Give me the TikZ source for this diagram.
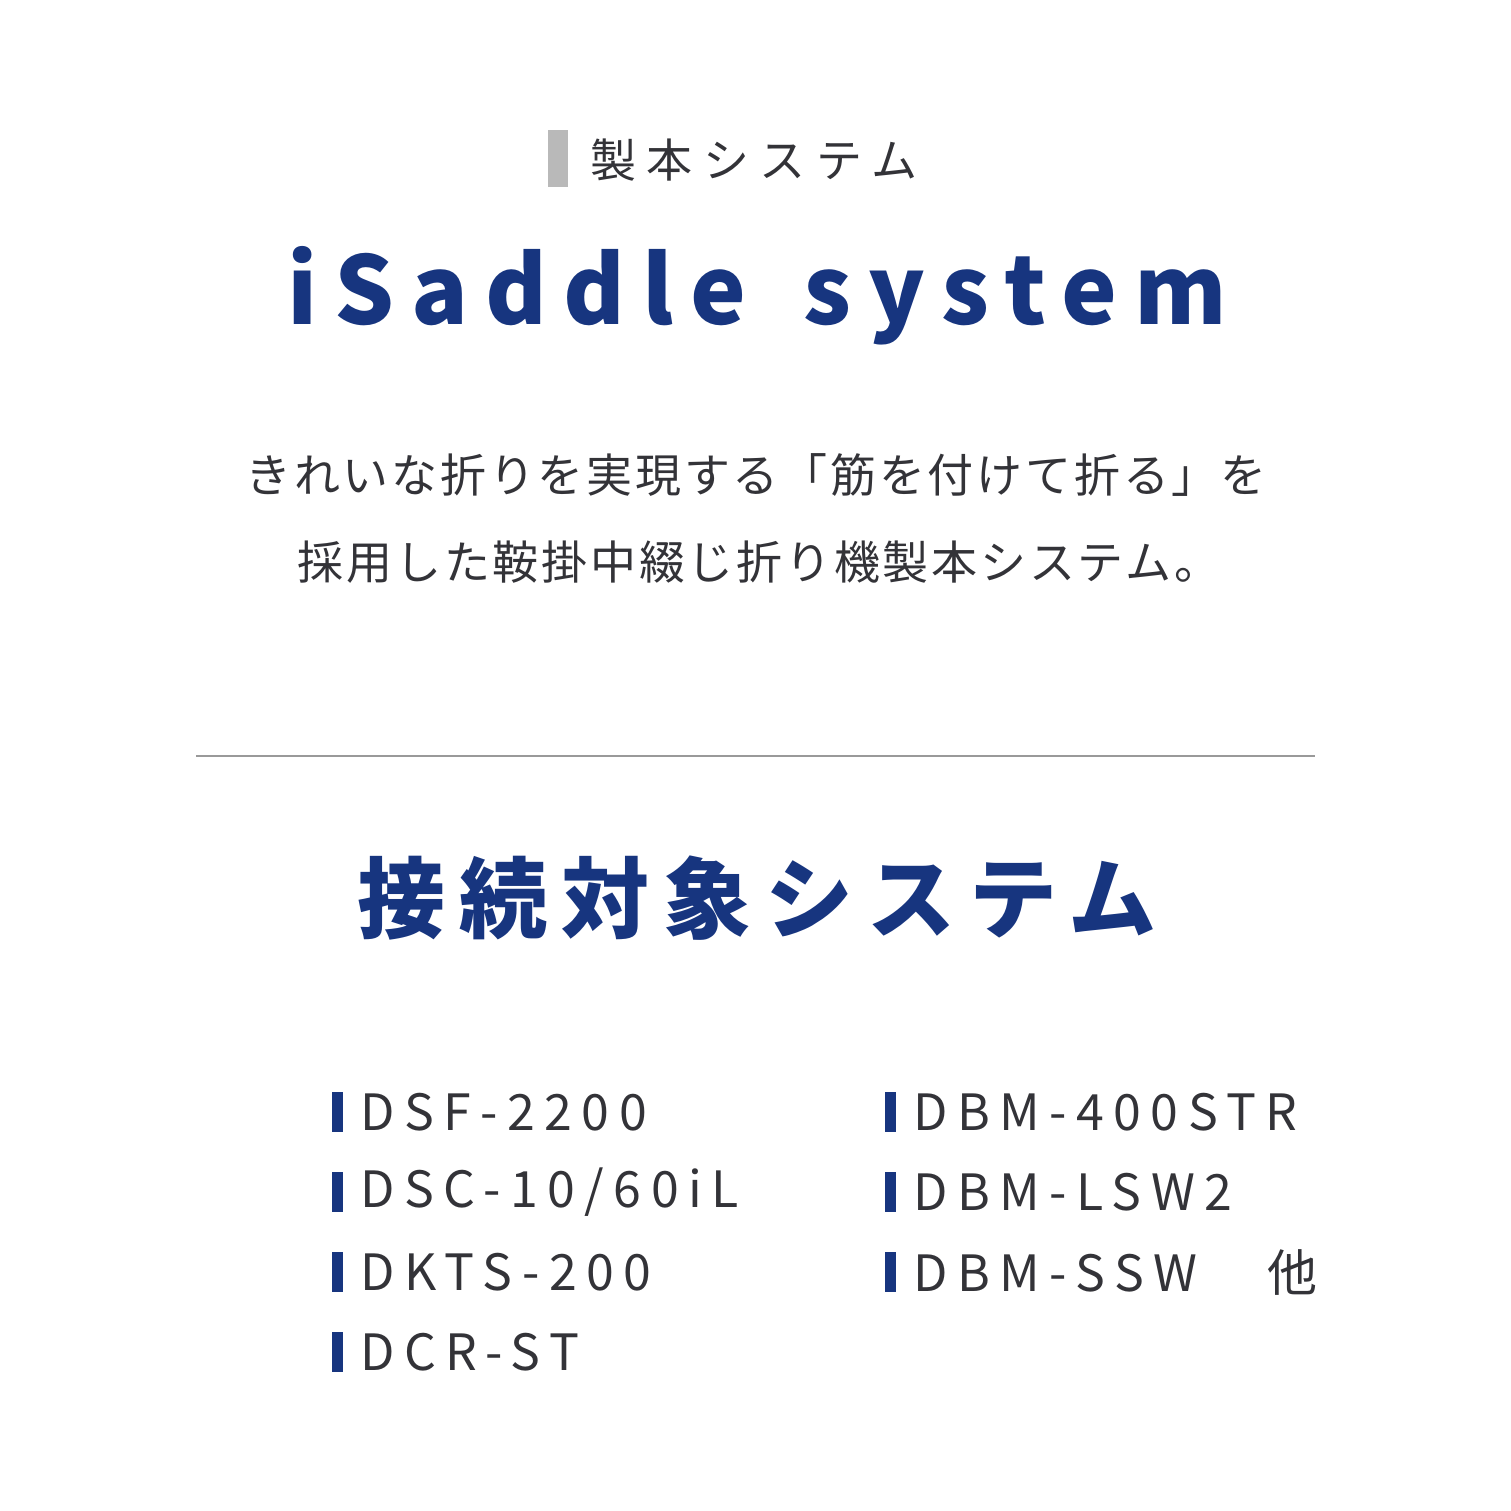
\documentclass[tikz,border=0pt]{standalone}
\usepackage{fontspec}
\setmainfont{Noto Sans CJK JP}
\definecolor{nv}{HTML}{17357F}
\definecolor{tx}{HTML}{333338}
\begin{document}
\begin{tikzpicture}[x=1pt,y=-1pt,
 txt/.style={inner sep=0pt,text=tx},
 item/.style={inner sep=0pt,anchor=west,text=tx,font=\fontsize{50}{50}\selectfont\addfontfeature{LetterSpace=19}},
 ibar/.style={fill=nv,draw=none}]
\useasboundingbox (0,0) rectangle (1511,1511);
\fill[gray!55] (548,130) rectangle (568,187);
\node[txt,anchor=west,font=\fontsize{46}{46}\selectfont\addfontfeature{LetterSpace=23}] (t1) at (590,160) {製本システム};
\node[inner sep=0pt,text=nv,font=\fontsize{94}{94}\selectfont\bfseries\addfontfeature{LetterSpace=18}] (t2) at (757,296) {iSaddle\hspace{18pt} system};
\node[txt,font=\fontsize{46}{46}\selectfont\addfontfeature{LetterSpace=6}] (p1) at (756,475) {きれいな折りを実現する「筋を付けて折る」を};
\node[txt,font=\fontsize{46}{46}\selectfont\addfontfeature{LetterSpace=6}] (p2) at (759,562) {採用した鞍掛中綴じ折り機製本システム。};
\draw[gray!80,line width=1.2pt] (196,756) coordinate (l1) -- (1315,756) coordinate (l2);
\node[inner sep=0pt,text=nv,font=\fontsize{88}{88}\selectfont\bfseries\addfontfeature{LetterSpace=16}] (t3) at (757,898) {接続対象システム};
\foreach \y/\t [count=\i] in {1112/{DSF-2200},1192/{DSC-10/60iL},1272/{DKTS-200},1352/{DCR-ST}}{
 \fill[nv] (332,\y-20) rectangle (343,\y+20);
 \node[item] (a\i) at (360,\y) {\t};}
\foreach \y/\t [count=\i] in {1112/{DBM-400STR},1192/{DBM-LSW2},1272/{DBM-SSW\quad\ 他}}{
 \fill[nv] (885,\y-20) rectangle (896,\y+20);
 \node[item] (b\i) at (913,\y) {\t};}
\end{tikzpicture}
\end{document}
